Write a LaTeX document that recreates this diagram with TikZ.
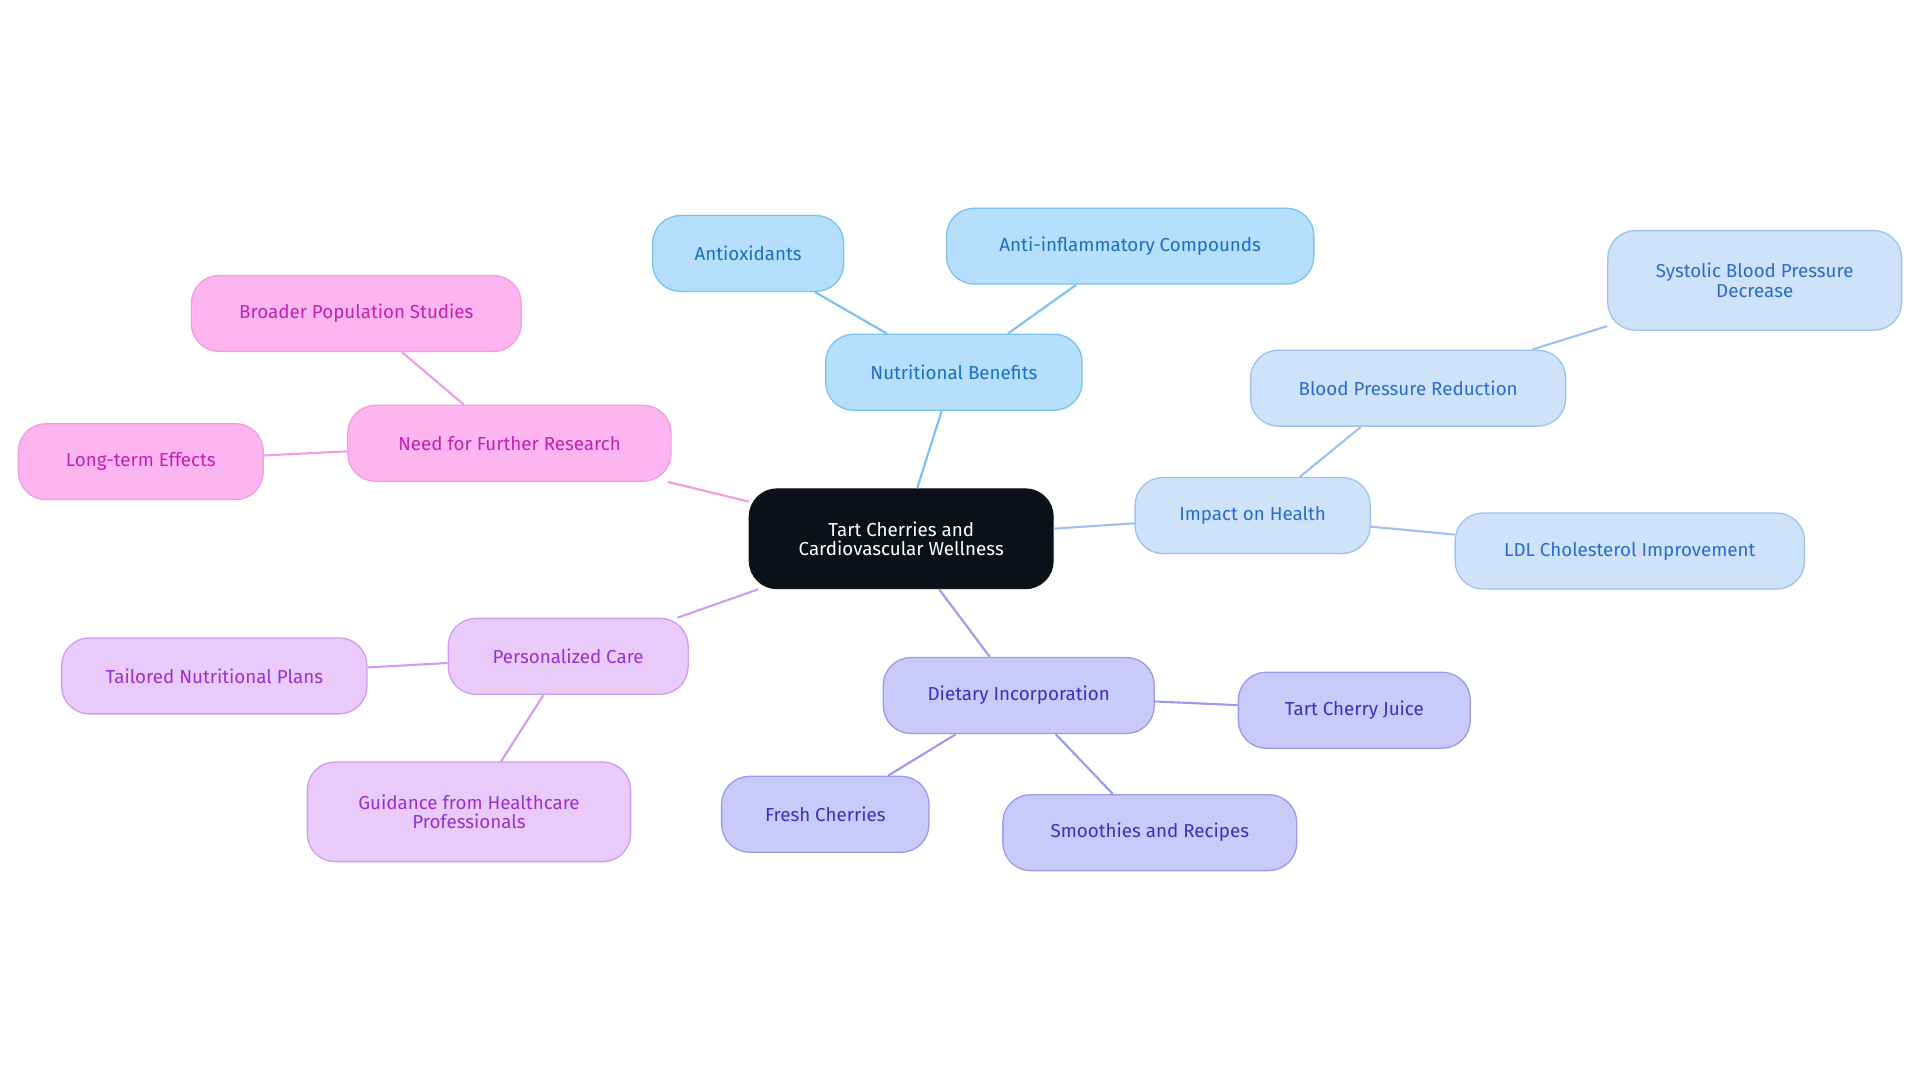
\documentclass[tikz,border=0pt]{standalone}
\usepackage{fontspec}
\setmainfont{Fira Sans}
\usepackage{tikz}
\definecolor{rootfill}{HTML}{0D1117}
\definecolor{nutfill}{HTML}{B5DFFC}\definecolor{nutdraw}{HTML}{7CC2F0}\definecolor{nuttext}{HTML}{1A6FC4}
\definecolor{impfill}{HTML}{CEE2FA}\definecolor{impdraw}{HTML}{9CC2F0}\definecolor{imptext}{HTML}{2A6BD1}
\definecolor{dietfill}{HTML}{C9C9FA}\definecolor{dietdraw}{HTML}{9A9AF0}\definecolor{diettext}{HTML}{3A2FC4}
\definecolor{perfill}{HTML}{E8CBFA}\definecolor{perdraw}{HTML}{D49AF0}\definecolor{pertext}{HTML}{9A2FD4}
\definecolor{resfill}{HTML}{FDB5F0}\definecolor{resdraw}{HTML}{F39BE3}\definecolor{restext}{HTML}{C81FB4}

\begin{document}
\begin{tikzpicture}[
		x=0.75pt, y=-0.75pt,
		every node/.style = {
			shape=rectangle,
			rounded corners=17pt,
			draw,
			line width=0.8pt,
			align=center,
			font=\fontsize{11.5}{12}\selectfont,
			minimum height=46.5pt,
			inner xsep=18pt
		},
		topic/.style={fill=#1fill, draw=#1draw, text=#1text},
		link/.style={draw=#1draw, line width=1.3pt}
		]
		\useasboundingbox (0,0) rectangle (1568,884);
		% centre
		\node[fill=rootfill, draw=rootfill, text=white, minimum width=186pt, minimum height=61pt] (root) at (736,440) {Tart Cherries and\\Cardiovascular Wellness};
		% nutritional benefits
		\node[topic=nut, minimum width=157pt] (nutri) at (779,304) {Nutritional Benefits};
		\node[topic=nut, minimum width=117pt] (antiox) at (611,207) {Antioxidants};
		\node[topic=nut, minimum width=225pt] (antiinf) at (923,201) {Anti-inflammatory Compounds};
		% impact on health
		\node[topic=imp, minimum width=144pt] (impact) at (1023,421) {Impact on Health};
		\node[topic=imp, minimum width=193pt] (bpred) at (1150,317) {Blood Pressure Reduction};
		\node[topic=imp, minimum width=180pt, minimum height=61pt] (systolic) at (1433,229) {Systolic Blood Pressure\\Decrease};
		\node[topic=imp, minimum width=214pt] (ldl) at (1331,450) {LDL Cholesterol Improvement};
		% dietary incorporation
		\node[topic=diet, minimum width=166pt] (dietary) at (832,568) {Dietary Incorporation};
		\node[topic=diet, minimum width=142pt] (juice) at (1106,580) {Tart Cherry Juice};
		\node[topic=diet, minimum width=127pt] (fresh) at (674,665) {Fresh Cherries};
		\node[topic=diet, minimum width=180pt] (smoothie) at (939,680) {Smoothies and Recipes};
		% personalized care
		\node[topic=per, minimum width=147pt] (perscare) at (464,536) {Personalized Care};
		\node[topic=per, minimum width=187pt] (tailored) at (175,552) {Tailored Nutritional Plans};
		\node[topic=per, minimum width=198pt, minimum height=61pt] (guidance) at (383,663) {Guidance from Healthcare\\Professionals};
		% further research
		\node[topic=res, minimum width=198pt] (research) at (416,362) {Need for Further Research};
		\node[topic=res, minimum width=202pt] (broader) at (291,256) {Broader Population Studies};
		\node[topic=res, minimum width=150pt] (longterm) at (115,377) {Long-term Effects};

		\draw[link=nut] (root) -- (nutri);
		\draw[link=nut] (nutri) -- (antiox);
		\draw[link=nut] (nutri) -- (antiinf);
		\draw[link=imp] (root) -- (impact);
		\draw[link=imp] (impact) -- (bpred);
		\draw[link=imp] (bpred) -- (systolic);
		\draw[link=imp] (impact) -- (ldl);
		\draw[link=diet] (root) -- (dietary);
		\draw[link=diet] (dietary) -- (juice);
		\draw[link=diet] (dietary) -- (fresh);
		\draw[link=diet] (dietary) -- (smoothie);
		\draw[link=per] (root) -- (perscare);
		\draw[link=per] (perscare) -- (tailored);
		\draw[link=per] (perscare) -- (guidance);
		\draw[link=res] (root) -- (research);
		\draw[link=res] (research) -- (broader);
		\draw[link=res] (research) -- (longterm);
	\end{tikzpicture}
\end{document}
